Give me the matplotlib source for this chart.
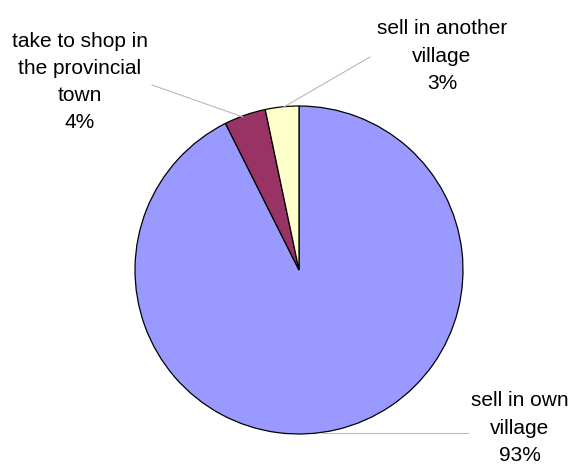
import matplotlib

matplotlib.use("Agg")
import matplotlib.pyplot as plt

# 販売先の内訳（%）
categories = ["sell in own\nvillage", "take to shop in\nthe provincial\ntown", "sell in another\nvillage"]
shares = [92.6, 4.1, 3.3]
colors = ["#9999FF", "#993366", "#FFFFCC"]

plt.rcParams["font.family"] = ["Liberation Sans", "DejaVu Sans"]

W, H = 578, 469
fig = plt.figure(figsize=(W / 100, H / 100), dpi=100)
ax = fig.add_axes([0, 0, 1, 1])

cx, cy, r = 299, H - 270, 164
ax.pie(
    shares, colors=colors, startangle=90, counterclock=False,
    center=(cx, cy), radius=r, frame=True,
    wedgeprops={"edgecolor": "black", "linewidth": 0.9},
)
ax.set_xlim(0, W)
ax.set_ylim(0, H)
ax.set_aspect("equal")
ax.axis("off")

# ラベル位置と引き出し線（ピクセル座標、上が0）
label_pos = [(520, 428), (80, 82), (442, 56)]
leaders = [((322, 433), (468, 433)), ((243, 117), (152, 85)), ((282, 108), (370, 57))]

for name, val, (lx, ly), (p0, p1) in zip(categories, shares, label_pos, leaders):
    ax.plot([p0[0], p1[0]], [H - p0[1], H - p1[1]], color="#b8b8b8", lw=0.8)
    ax.text(lx, H - ly, f"{name}\n{round(val)}%", ha="center", va="center",
            fontsize=15, linespacing=1.55, color="black")

fig.savefig("out.png", dpi=100)
